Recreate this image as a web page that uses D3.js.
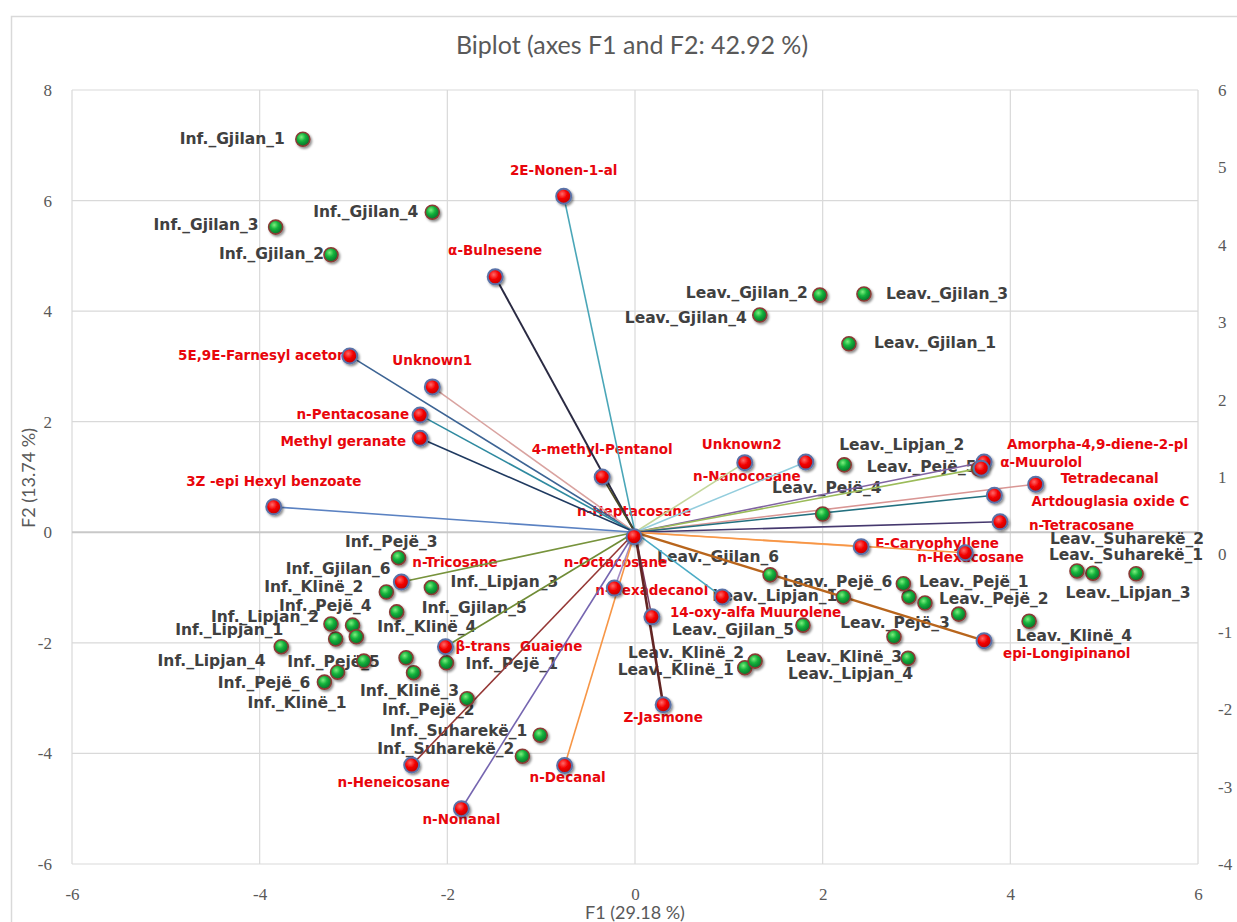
<!DOCTYPE html>
<html>
<head>
<meta charset="utf-8">
<script src="https://cdn.jsdelivr.net/npm/d3@7"></script>
<style>
  body { margin: 0; background: #fff; }
  svg { display: block; }
</style>
</head>
<body>
<script>
// observations (green points)
var obsNames = ["Inf._Gjilan_1","Inf._Gjilan_2","Inf._Gjilan_3","Inf._Gjilan_4","Inf._Gjilan_5","Inf._Gjilan_6",
  "Inf._Lipjan_1","Inf._Lipjan_2","Inf._Lipjan_3","Inf._Lipjan_4",
  "Inf._Pejë_1","Inf._Pejë_2","Inf._Pejë_3","Inf._Pejë_4","Inf._Pejë_5","Inf._Pejë_6",
  "Inf._Klinë_1","Inf._Klinë_2","Inf._Klinë_3","Inf._Klinë_4","Inf._Suharekë_1","Inf._Suharekë_2",
  "Leav._Gjilan_1","Leav._Gjilan_2","Leav._Gjilan_3","Leav._Gjilan_4","Leav._Gjilan_5","Leav._Gjilan_6",
  "Leav._Lipjan_1","Leav._Lipjan_2","Leav._Lipjan_3","Leav._Lipjan_4",
  "Leav._Pejë_1","Leav._Pejë_2","Leav._Pejë_3","Leav._Pejë_4","Leav._Pejë_5","Leav._Pejë_6",
  "Leav._Klinë_1","Leav._Klinë_2","Leav._Klinë_3","Leav._Klinë_4","Leav._Suharekë_1","Leav._Suharekë_2"];
var obsF1 = [-3.54,-3.24,-3.83,-2.16,-2.54,-3.19, -3.77,-3.24,-2.17,-2.36, -2.01,-2.44,-2.52,-3.01,-2.89,-3.31,
  -3.17,-2.65,-1.79,-2.97,-1.01,-1.20,
  2.28,1.97,2.44,1.33,1.79,1.44, 2.22,2.23,5.34,2.76, 2.92,3.09,3.45,2.00,3.66,2.86, 1.17,1.28,2.91,4.20,4.88,4.71];
var obsF2 = [7.11,5.02,5.52,5.79,-1.44,-1.93, -2.07,-1.66,-1.00,-2.54, -2.36,-2.27,-0.46,-1.68,-2.33,-2.71,
  -2.53,-1.08,-3.01,-1.89,-3.67,-4.05,
  3.41,4.29,4.31,3.93,-1.68,-0.77, -1.17,1.22,-0.75,-1.89, -1.17,-1.28,-1.48,0.33,1.15,-0.93, -2.45,-2.33,-2.28,-1.61,-0.74,-0.70];

// variables (red points with vectors)
var varNames = ["2E-Nonen-1-al","α-Bulnesene","5E,9E-Farnesyl aceton","Unknown1","n-Pentacosane","Methyl geranate",
  "3Z -epi Hexyl benzoate","4-methyl-Pentanol","Unknown2","n-Nanocosane","n-Heptacosane","Amorpha-4,9-diene-2-pl",
  "α-Muurolol","Tetradecanal","Artdouglasia oxide C","n-Tetracosane","E-Caryophyllene","n-Hexacosane",
  "epi-Longipinanol","n-Tricosane","n-Octacosane","n-Hexadecanol","14-oxy-alfa Muurolene","β-trans  Guaiene",
  "Z-Jasmone","n-Heneicosane","n-Decanal","n-Nonanal"];
var varF1 = [-0.76,-1.49,-3.04,-2.16,-2.29,-2.29,-3.85,-0.35,1.17,1.82,-0.01,3.72,3.69,4.27,3.83,3.89,2.41,3.52,
  3.72,-2.49,0.93,-0.22,0.18,-2.02,0.30,-2.38,-0.75,-1.85];
var varF2 = [6.08,4.62,3.19,2.63,2.12,1.70,0.46,1.00,1.26,1.27,-0.08,1.27,1.16,0.87,0.67,0.19,-0.26,-0.37,
  -1.96,-0.90,-1.17,-1.01,-1.53,-2.07,-3.12,-4.21,-4.22,-5.00];

var xTicks = [-6,-4,-2,0,2,4,6];
var yTicks = [-6,-4,-2,0,2,4,6,8];
var y2Ticks = [-4,-3,-2,-1,0,1,2,3,4,5,6];

// vector colours, in varNames order
var vecColors = ["#4aa6b8","#2a2a42","#3d6494","#d9a3a0","#2f8aa0","#1f3a60","#5b82c2","#4a4a24","#c3d69b","#93cddd",
  "#777777","#8064a2","#9bbb59","#d99694","#23707f","#45386e","#fab57e","#f79646","#b8651c","#77933c",
  "#4bacc6","#a58cc6","#7c3d5e","#6f8c36","#632523","#953735","#f79646","#7565b0"];
var vecWidths = {"Z-Jasmone": 2.6, "epi-Longipinanol": 2.4, "α-Bulnesene": 2};

// label placement: [dx, dy, anchor] relative to the point, in pixels
var obsLabel = {
  "Inf._Gjilan_1": [-18,0,"end"], "Inf._Gjilan_2": [-7,0,"end"], "Inf._Gjilan_3": [-17,-2,"end"], "Inf._Gjilan_4": [-14,0,"end"],
  "Inf._Gjilan_5": [25,-3,"start"], "Inf._Gjilan_6": [55,-69,"end"],
  "Inf._Lipjan_1": [2,-16,"end"], "Inf._Lipjan_2": [-12,-7,"end"], "Inf._Lipjan_3": [19,-5,"start"], "Inf._Lipjan_4": [-148,-11,"end"],
  "Inf._Pejë_1": [19,2,"start"], "Inf._Pejë_2": [-24,53,"start"], "Inf._Pejë_3": [39,-15,"end"], "Inf._Pejë_4": [19,-19,"end"],
  "Inf._Pejë_5": [16,1,"end"], "Inf._Pejë_6": [-14,1,"end"],
  "Inf._Klinë_1": [9,31,"end"], "Inf._Klinë_2": [-23,-4,"end"], "Inf._Klinë_3": [-8,-7,"end"], "Inf._Klinë_4": [21,-9,"start"],
  "Inf._Suharekë_1": [-13,-4,"end"], "Inf._Suharekë_2": [-8,-7,"end"],
  "Leav._Gjilan_1": [25,0,"start"], "Leav._Gjilan_2": [-12,-2,"end"], "Leav._Gjilan_3": [22,0,"start"], "Leav._Gjilan_4": [-13,3,"end"],
  "Leav._Gjilan_5": [-9,5,"end"], "Leav._Gjilan_6": [9,-17,"end"],
  "Leav._Lipjan_1": [-6,0,"end"], "Leav._Lipjan_2": [-5,-19,"start"], "Leav._Lipjan_3": [-8,20,"middle"], "Leav._Lipjan_4": [19,38,"end"],
  "Leav._Pejë_1": [10,-14,"start"], "Leav._Pejë_2": [14,-4,"start"], "Leav._Pejë_3": [-9,9,"end"], "Leav._Pejë_4": [59,-26,"end"],
  "Leav._Pejë_5": [-2,-1,"end"], "Leav._Pejë_6": [-11,-1,"end"],
  "Leav._Klinë_1": [-11,3,"end"], "Leav._Klinë_2": [-11,-8,"end"], "Leav._Klinë_3": [-6,-1,"end"], "Leav._Klinë_4": [-13,15,"start"],
  "Leav._Suharekë_1": [-44,-18,"start"], "Leav._Suharekë_2": [-27,-31,"start"]
};
var varLabel = {
  "2E-Nonen-1-al": [0,-25,"middle"], "α-Bulnesene": [0,-26,"middle"], "5E,9E-Farnesyl aceton": [-3,0,"end"],
  "Unknown1": [0,-26,"middle"], "n-Pentacosane": [-11,0,"end"], "Methyl geranate": [-14,4,"end"],
  "3Z -epi Hexyl benzoate": [0,-25,"middle"], "4-methyl-Pentanol": [0,-27,"middle"], "Unknown2": [-3,-18,"middle"],
  "n-Nanocosane": [-5,15,"end"], "n-Heptacosane": [0,-25,"middle"], "Amorpha-4,9-diene-2-pl": [23,-17,"start"],
  "α-Muurolol": [19,-5,"start"], "Tetradecanal": [25,-5,"start"], "Artdouglasia oxide C": [37,7,"start"],
  "n-Tetracosane": [29,4,"start"], "E-Caryophyllene": [14,-3,"start"], "n-Hexacosane": [-48,5,"start"],
  "epi-Longipinanol": [19,13,"start"], "n-Tricosane": [11,-19,"start"], "n-Octacosane": [-55,-34,"end"],
  "n-Hexadecanol": [-19,3,"start"], "14-oxy-alfa Muurolene": [18,-4,"start"], "β-trans  Guaiene": [10,0,"start"],
  "Z-Jasmone": [0,13,"middle"], "n-Heneicosane": [-18,18,"middle"], "n-Decanal": [3,12,"middle"], "n-Nonanal": [0,11,"middle"]
};

var W = 1237, H = 922;
var svg = d3.select("body").append("svg").attr("width", W).attr("height", H)
  .style("font-family", "Lato, 'Open Sans', sans-serif");

var defs = svg.append("defs");
var gg = defs.append("radialGradient").attr("id", "gGreen").attr("cx", "40%").attr("cy", "35%").attr("r", "65%");
gg.append("stop").attr("offset", "0%").attr("stop-color", "#7fef7f");
gg.append("stop").attr("offset", "45%").attr("stop-color", "#14b33c");
gg.append("stop").attr("offset", "100%").attr("stop-color", "#06702a");
var gr = defs.append("radialGradient").attr("id", "gRed").attr("cx", "40%").attr("cy", "35%").attr("r", "65%");
gr.append("stop").attr("offset", "0%").attr("stop-color", "#ff6a6a");
gr.append("stop").attr("offset", "50%").attr("stop-color", "#f40000");
gr.append("stop").attr("offset", "100%").attr("stop-color", "#c00000");
var sh = defs.append("filter").attr("id", "shadow").attr("x", "-50%").attr("y", "-50%").attr("width", "200%").attr("height", "200%");
sh.append("feDropShadow").attr("dx", 1.5).attr("dy", 1.8).attr("stdDeviation", 1.2)
  .attr("flood-color", "#000").attr("flood-opacity", 0.45);

// chart frame
svg.append("rect").attr("x", 11.5).attr("y", 16.5).attr("width", 1300).attr("height", 1000)
  .attr("fill", "none").attr("stroke", "#d9d9d9").attr("stroke-width", 1.5);

var x = d3.scaleLinear().domain([-6, 6]).range([72, 1198]);
var y = d3.scaleLinear().domain([-6, 8]).range([864, 90]);
var y2 = d3.scaleLinear().domain([-4, 6]).range([864, 90]);

// grid
svg.append("g").selectAll("line").data(xTicks).join("line")
  .attr("x1", d => x(d)).attr("x2", d => x(d)).attr("y1", y(8)).attr("y2", y(-6))
  .attr("stroke", "#d9d9d9").attr("stroke-width", 1.2);
svg.append("g").selectAll("line").data(yTicks).join("line")
  .attr("x1", x(-6)).attr("x2", x(6)).attr("y1", d => y(d)).attr("y2", d => y(d))
  .attr("stroke", d => d === 0 ? "#c8c8c8" : "#d9d9d9").attr("stroke-width", d => d === 0 ? 2 : 1.2);

// axes (labels only, as in the reference)
var axL = svg.append("g").attr("transform", "translate(" + x(-6) + ",0)")
  .call(d3.axisLeft(y).tickValues(yTicks).tickSize(0).tickPadding(20));
var axB = svg.append("g").attr("transform", "translate(0," + y(-6) + ")")
  .call(d3.axisBottom(x).tickValues(xTicks).tickSize(0).tickPadding(24));
var axR = svg.append("g").attr("transform", "translate(" + x(6) + ",0)")
  .call(d3.axisRight(y2).tickValues(y2Ticks).tickSize(0).tickPadding(20));
[axL, axB, axR].forEach(function(a) {
  a.select(".domain").remove();
  a.selectAll("text").attr("fill", "#595959").style("font-family", "'Liberation Serif', serif").style("font-size", "17px")
    .text(d => d < 0 ? "-" + Math.abs(d) : d);
});

// title and axis titles
svg.append("text").attr("x", 632).attr("y", 48).attr("text-anchor", "middle").attr("dominant-baseline", "middle")
  .attr("fill", "#595959").style("font-size", "25px").text("Biplot (axes F1 and F2: 42.92 %)");
svg.append("text").attr("x", 635).attr("y", 914).attr("text-anchor", "middle").attr("dominant-baseline", "middle")
  .attr("fill", "#595959").style("font-size", "18px").text("F1 (29.18 %)");
svg.append("text").attr("transform", "translate(30,478) rotate(-90)").attr("text-anchor", "middle")
  .attr("dominant-baseline", "middle").attr("fill", "#595959").style("font-size", "18px").text("F2 (13.74 %)");

var obs = obsNames.map((n, i) => ({ name: n, f1: obsF1[i], f2: obsF2[i] }));
var vars = varNames.map((n, i) => ({ name: n, f1: varF1[i], f2: varF2[i], color: vecColors[i] }));

// labels under the lines and points
svg.append("g").selectAll("text").data(obs).join("text")
  .attr("x", d => x(d.f1) + obsLabel[d.name][0]).attr("y", d => y(d.f2) + obsLabel[d.name][1])
  .attr("text-anchor", d => obsLabel[d.name][2]).attr("dominant-baseline", "middle")
  .attr("fill", "#404040").style("font-family", "'DejaVu Sans', sans-serif")
  .style("font-size", "15.5px").style("font-weight", "bold")
  .text(d => d.name);
svg.append("g").selectAll("text").data(vars).join("text")
  .attr("x", d => x(d.f1) + varLabel[d.name][0]).attr("y", d => y(d.f2) + varLabel[d.name][1])
  .attr("text-anchor", d => varLabel[d.name][2]).attr("dominant-baseline", "middle")
  .attr("fill", "#e8060c").style("font-family", "'DejaVu Sans', sans-serif")
  .style("font-size", "13.5px").style("font-weight", "bold")
  .style("white-space", "pre").text(d => d.name);

// vectors
svg.append("g").selectAll("line").data(vars).join("line")
  .attr("x1", x(0)).attr("y1", y(0)).attr("x2", d => x(d.f1)).attr("y2", d => y(d.f2))
  .attr("stroke", d => d.color).attr("stroke-width", d => vecWidths[d.name] || 1.6);

// points
svg.append("g").selectAll("circle").data(obs).join("circle")
  .attr("cx", d => x(d.f1)).attr("cy", d => y(d.f2)).attr("r", 7)
  .attr("fill", "url(#gGreen)").attr("stroke", "#8a3b36").attr("stroke-width", 1.6)
  .attr("filter", "url(#shadow)");
svg.append("g").selectAll("circle").data(vars).join("circle")
  .attr("cx", d => x(d.f1)).attr("cy", d => y(d.f2)).attr("r", 7.5)
  .attr("fill", "url(#gRed)").attr("stroke", "#5a72a8").attr("stroke-width", 2)
  .attr("filter", "url(#shadow)");
</script>
</body>
</html>
